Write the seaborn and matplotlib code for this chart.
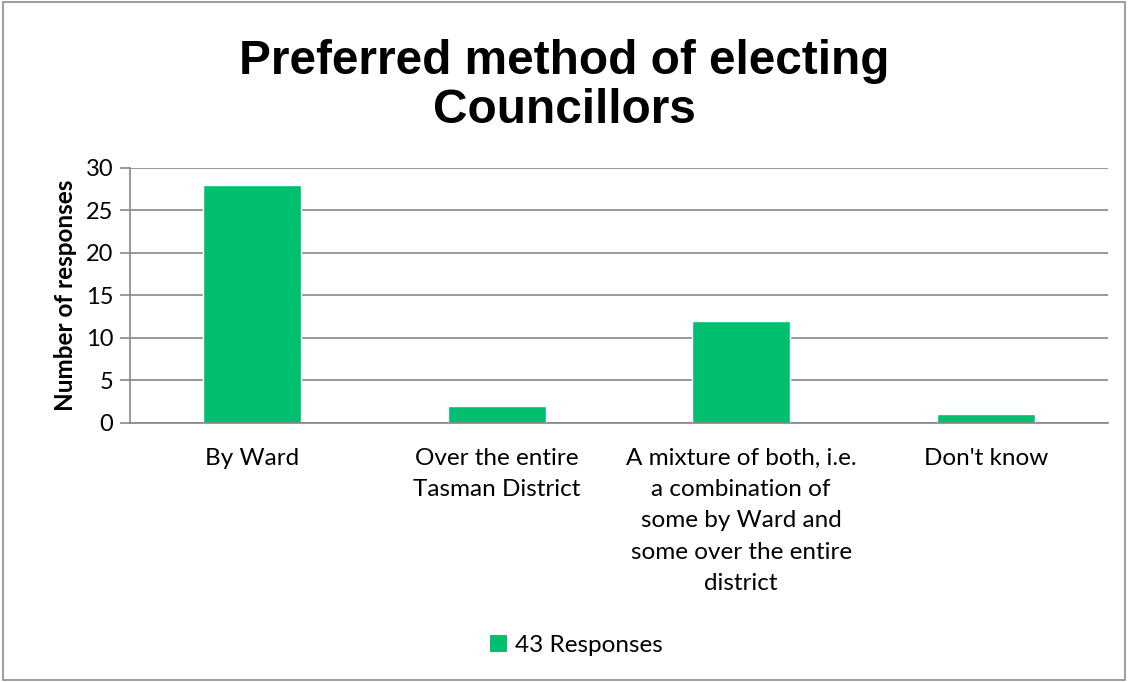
import matplotlib
matplotlib.use("Agg")
import matplotlib.pyplot as plt
import seaborn as sns
import pandas as pd
import numpy as np
from matplotlib.patches import Rectangle

categories = ["By Ward", "Over the entire\nTasman District",
              "A mixture of both, i.e.\na combination of\nsome by Ward and\nsome over the entire\ndistrict",
              "Don't know"]
values = [28, 2, 12, 1]
series_name = "43 Responses"
yticks = [0, 5, 10, 15, 20, 25, 30]

sns.set_theme(style="white")
plt.rcParams['font.family'] = ['Lato', 'DejaVu Sans']
plt.rcParams['text.color'] = 'black'
plt.rcParams['axes.labelcolor'] = 'black'
plt.rcParams['xtick.color'] = 'black'
plt.rcParams['ytick.color'] = 'black'

fig = plt.figure(figsize=(11.28, 6.82), dpi=100)
fig.patch.set_facecolor("white")
fig.add_artist(Rectangle((0.003, 0.003), 0.994, 0.994, transform=fig.transFigure,
                         fill=False, edgecolor="#8c8c8c", linewidth=1.2))
ax = fig.add_axes([0.1152, 0.3798, 0.867, 0.374])

df = pd.DataFrame({"cat": categories, "val": values, "series": series_name})
color = "#00BF6F"
sns.barplot(data=df, x="cat", y="val", hue="series", palette=[color], width=0.4,
            ax=ax, legend=False, saturation=1)

ax.set_ylim(0, 30)
ax.set_xlim(-0.5, 3.5)
ax.set_yticks(yticks)
ax.set_yticklabels([str(t) for t in yticks], fontsize=17, color="#000000")
ax.yaxis.grid(True, color="#868686", linewidth=1.2)
ax.set_axisbelow(True)
for s in ["top", "right"]:
    ax.spines[s].set_visible(False)
for s in ["left", "bottom"]:
    ax.spines[s].set_color("#868686")
    ax.spines[s].set_linewidth(1.2)

ax.set_xticks(np.arange(len(categories)))
ax.set_xticklabels(categories, fontsize=17.5, linespacing=1.6, va="top", color="#000000")
ax.tick_params(axis="x", length=0, pad=18)
ax.set_xticks(np.arange(-0.5, len(categories), 1.0), minor=True)
ax.tick_params(axis="x", which="minor", length=7, color="#868686", width=1.2, direction="out")
ax.tick_params(axis="y", length=7, color="#868686", width=1.2, direction="out", left=True, pad=5)

ax.set_xlabel("")
ax.set_ylabel("Number of responses", fontsize=17.5, fontweight="bold", labelpad=6, color="#000000")

fig.text(0.5, 0.874, "Preferred method of electing\nCouncillors", ha="center", va="center",
         fontsize=34.4, fontweight="bold", family=["Liberation Sans", "DejaVu Sans"],
         linespacing=1.12, color="#000000")

handle = Rectangle((0, 0), 1, 1, facecolor=color, edgecolor="none")
fig.legend([handle], [series_name], loc="center", bbox_to_anchor=(0.511, 0.054),
           frameon=False, fontsize=17.5, handlelength=0.7, handleheight=0.7, handletextpad=0.3)

fig.savefig("out.png", dpi=100, facecolor="white")
